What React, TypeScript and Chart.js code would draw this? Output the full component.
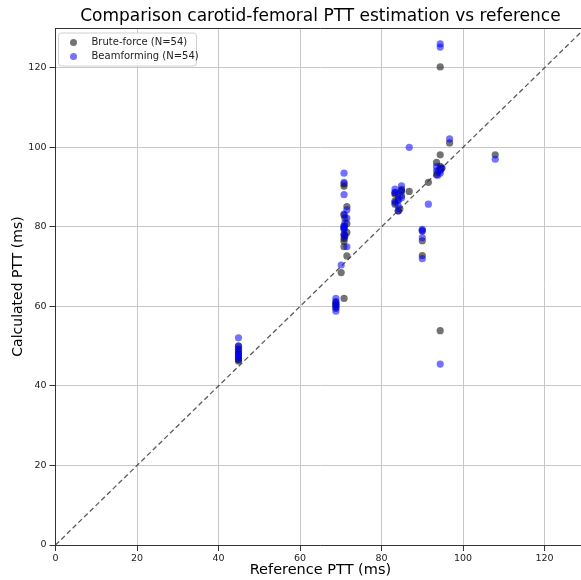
import React, { useEffect, useRef } from "react";
import { Chart, registerables } from "chart.js";

Chart.register(...registerables);

const TITLE = "Comparison carotid-femoral PTT estimation vs reference";
const X_LABEL = "Reference PTT (ms)";
const Y_LABEL = "Calculated PTT (ms)";
const BRUTE_LABEL = "Brute-force (N=54)";
const BEAM_LABEL = "Beamforming (N=54)";

const bruteX = [
  44.9, 44.9, 44.9, 44.9, 44.9, 44.9, 44.9,
  68.8, 68.8, 68.8, 68.8,
  70.8,
  70.8, 70.8, 71.5, 70.8, 71.0, 71.5, 70.8, 70.8, 71.5, 70.8, 71.0, 70.8, 70.8, 70.8, 71.5, 70.1,
  83.3, 84.9, 83.3, 84.1, 83.3, 84.9, 83.3, 84.1, 84.5, 84.9,
  86.8,
  90.0, 90.0, 90.0,
  91.5,
  94.4, 93.5, 94.4, 93.5, 94.4, 93.8, 94.8,
  94.4, 94.4,
  96.7,
  107.9,
];
const bruteY = [
  50.0, 49.2, 48.5, 48.0, 47.3, 46.6, 46.2,
  61.0, 60.6, 60.2, 59.5,
  62.0,
  90.8, 90.2, 85.1, 83.0, 82.2, 80.8, 80.2, 79.5, 78.6, 78.0, 77.8, 77.1, 76.4, 75.0, 72.7, 68.5,
  88.2, 87.8, 85.7, 84.0, 86.5, 89.0, 88.6, 86.9, 84.5, 89.4,
  88.9,
  79.0, 76.5, 72.8,
  91.2,
  98.1, 96.2, 95.2, 93.1, 94.5, 93.8, 94.8,
  120.2, 53.9,
  101.1,
  98.1,
];

const beamX = [
  44.9, 44.9, 44.9, 44.9, 44.9, 44.9, 44.9,
  68.8, 68.8, 68.8, 68.8, 68.8,
  70.1,
  70.8, 70.8, 70.8, 71.5, 70.8, 71.5, 71.0, 70.8, 70.8, 70.8, 70.8, 71.0, 71.5,
  83.3, 84.9, 83.3, 84.9, 84.9, 83.3, 84.1, 84.1, 84.1, 84.1,
  86.8,
  90.0, 90.0, 90.0, 90.0,
  91.5,
  93.5, 94.4, 93.5, 94.4, 94.8, 93.8, 94.4,
  94.4, 94.4, 94.4,
  96.7,
  107.9,
];
const beamY = [
  52.1, 50.0, 49.2, 48.4, 47.8, 47.3, 46.8,
  62.0, 61.2, 60.4, 59.7, 58.8,
  70.4,
  93.5, 91.2, 88.1, 84.3, 83.2, 82.2, 81.0, 80.2, 79.8, 79.4, 78.1, 77.5, 75.0,
  89.5, 90.3, 88.7, 89.1, 87.3, 86.1, 85.3, 84.0, 88.0, 86.6,
  100.0,
  79.4, 77.3, 72.0, 79.0,
  85.7,
  95.2, 94.1, 94.1, 93.5, 94.8, 93.0, 94.4,
  126.0, 125.2, 45.5,
  102.1,
  97.0,
];

const diagonal = [0, 130];
const axisMax = 130;
const tickStep = 20;

const FONT = "'DejaVu Sans', sans-serif";

const decorPlugin = {
  id: "decor",
  afterDraw(chart: any) {
    const ctx = chart.ctx;
    const area = chart.chartArea;
    ctx.save();
    // title centred over the plot area
    ctx.fillStyle = "#000";
    ctx.font = `17px ${FONT}`;
    ctx.textAlign = "center";
    ctx.textBaseline = "middle";
    ctx.fillText(TITLE, (area.left + area.right) / 2, 17);

    // top frame line
    ctx.strokeStyle = "#333";
    ctx.lineWidth = 1;
    ctx.beginPath();
    ctx.moveTo(area.left, area.top + 0.5);
    ctx.lineTo(area.right, area.top + 0.5);
    ctx.stroke();
    ctx.beginPath();
    ctx.moveTo(area.right - 0.5, area.top);
    ctx.lineTo(area.right - 0.5, area.bottom);
    ctx.stroke();

    // legend box
    const items = chart.data.datasets.filter((d: any) => d.showInLegend);
    const x0 = area.left + 3;
    const y0 = area.top + 5;
    const w = 138;
    const h = 33;
    const r = 3;
    ctx.fillStyle = "rgba(255,255,255,0.85)";
    ctx.strokeStyle = "#d0d0d0";
    ctx.beginPath();
    ctx.moveTo(x0 + r, y0);
    ctx.lineTo(x0 + w - r, y0);
    ctx.arcTo(x0 + w, y0, x0 + w, y0 + r, r);
    ctx.lineTo(x0 + w, y0 + h - r);
    ctx.arcTo(x0 + w, y0 + h, x0 + w - r, y0 + h, r);
    ctx.lineTo(x0 + r, y0 + h);
    ctx.arcTo(x0, y0 + h, x0, y0 + h - r, r);
    ctx.lineTo(x0, y0 + r);
    ctx.arcTo(x0, y0, x0 + r, y0, r);
    ctx.closePath();
    ctx.fill();
    ctx.stroke();

    ctx.font = `10px ${FONT}`;
    ctx.textBaseline = "middle";
    ctx.textAlign = "left";
    items.forEach((d: any, i: number) => {
      const cy = y0 + 9.5 + i * 14;
      ctx.fillStyle = d.backgroundColor;
      ctx.beginPath();
      ctx.arc(x0 + 15, cy, 3.5, 0, Math.PI * 2);
      ctx.fill();
      ctx.fillStyle = "#222";
      ctx.fillText(d.label, x0 + 33, cy);
    });
    ctx.restore();
  },
};

export default function App() {
  const ref = useRef<HTMLCanvasElement | null>(null);

  useEffect(() => {
    if (!ref.current) return;
    const brute = bruteX.map((x, i) => ({ x, y: bruteY[i] }));
    const beam = beamX.map((x, i) => ({ x, y: beamY[i] }));
    const diag = diagonal.map((v) => ({ x: v, y: v }));

    const chart = new Chart(ref.current, {
      type: "scatter",
      data: {
        datasets: [
          {
            type: "line",
            label: "identity",
            data: diag,
            borderColor: "rgba(50,50,50,0.8)",
            borderWidth: 1.3,
            borderDash: [5, 3],
            pointRadius: 0,
            fill: false,
            order: 0,
          } as any,
          {
            label: BRUTE_LABEL,
            data: brute,
            backgroundColor: "rgba(0,0,0,0.55)",
            borderWidth: 0,
            pointRadius: 3.6,
            showInLegend: true,
            order: 2,
          } as any,
          {
            label: BEAM_LABEL,
            data: beam,
            backgroundColor: "rgba(0,0,255,0.55)",
            borderWidth: 0,
            pointRadius: 3.6,
            showInLegend: true,
            order: 1,
          } as any,
        ],
      },
      options: {
        animation: false,
        responsive: false,
        layout: { padding: { left: 0, top: 28, right: 14.7, bottom: 0 } },
        plugins: {
          legend: { display: false },
          tooltip: { enabled: false },
          title: { display: false },
        },
        scales: {
          x: {
            type: "linear",
            min: 0,
            max: axisMax,
            afterFit(scale: any) {
              scale.height = 35;
            },
            ticks: {
              stepSize: tickStep,
              includeBounds: false,
              color: "#222",
              padding: 2,
              maxRotation: 0,
              font: { family: FONT, size: 9.5 },
            },
            grid: {
              color: "#c8c8c8",
              lineWidth: 1,
              tickLength: 6,
              tickColor: "#333",
            },
            border: { display: true, color: "#333", width: 1 },
            title: {
              display: true,
              text: X_LABEL,
              color: "#000",
              font: { family: FONT, size: 14.5 },
              padding: { top: 0, bottom: 1 },
            },
          },
          y: {
            type: "linear",
            min: 0,
            max: axisMax,
            afterFit(scale: any) {
              scale.width = 55.5;
            },
            ticks: {
              stepSize: tickStep,
              includeBounds: false,
              color: "#222",
              padding: 3,
              font: { family: FONT, size: 9.5 },
            },
            grid: {
              color: "#c8c8c8",
              lineWidth: 1,
              tickLength: 6,
              tickColor: "#333",
            },
            border: { display: true, color: "#333", width: 1 },
            title: {
              display: true,
              text: Y_LABEL,
              color: "#000",
              font: { family: FONT, size: 14 },
              padding: { top: 10, bottom: 0 },
            },
          },
        },
      },
      plugins: [decorPlugin],
    });
    return () => chart.destroy();
  }, []);

  return (
    <div
      style={{
        position: "fixed",
        left: 0,
        top: 0,
        width: 581,
        height: 580,
        overflow: "hidden",
        background: "#fff",
      }}
    >
      <canvas
        ref={ref}
        width={600}
        height={580}
        style={{ width: 600, height: 580, display: "block" }}
      />
    </div>
  );
}
